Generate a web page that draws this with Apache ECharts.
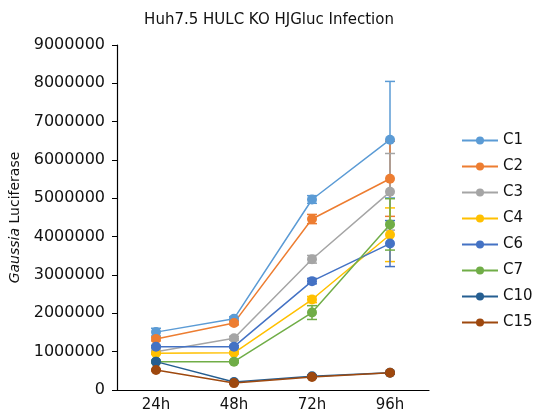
<!DOCTYPE html>
<html>
<head>
<meta charset="utf-8">
<script src="https://cdn.jsdelivr.net/npm/echarts@6/dist/echarts.min.js"></script>
<style>
  html, body { margin: 0; padding: 0; background: #fff; }
  #main { width: 533px; height: 414px; }
</style>
</head>
<body>
<div id="main"></div>
<script>
// time points
const categories = ['24h', '48h', '72h', '96h'];
const names = ['C1', 'C2', 'C3', 'C4', 'C6', 'C7', 'C10', 'C15'];
const colors = ['#5B9BD5', '#ED7D31', '#A5A5A5', '#FFC000', '#4472C4', '#70AD47', '#255E91', '#9E480E'];

// mean values
const c1 = [1510000, 1860000, 4970000, 6530000];
const c2 = [1330000, 1750000, 4460000, 5510000];
const c3 = [1000000, 1350000, 3410000, 5170000];
const c4 = [960000, 970000, 2360000, 4050000];
const c6 = [1130000, 1130000, 2840000, 3820000];
const c7 = [740000, 740000, 2020000, 4320000];
const c10 = [740000, 210000, 360000, 450000];
const c15 = [520000, 180000, 340000, 450000];

// error bar half widths
const e1 = [100000, 50000, 100000, 1520000];
const e2 = [50000, 50000, 120000, 980000];
const e3 = [40000, 50000, 100000, 1000000];
const e4 = [30000, 30000, 80000, 700000];
const e6 = [30000, 30000, 70000, 600000];
const e7 = [30000, 30000, 180000, 670000];
const e10 = [20000, 20000, 30000, 30000];
const e15 = [20000, 20000, 30000, 30000];

const yTicks = { min: 0, max: 9000000, interval: 1000000 };

const values = [c1, c2, c3, c4, c6, c7, c10, c15];
const errors = [e1, e2, e3, e4, e6, e7, e10, e15];

const font = 'DejaVu Sans';

let chart = echarts.init(document.getElementById('main'));

let errData = [];
values.forEach(function (vals, s) {
  vals.forEach(function (v, i) {
    errData.push([i, v - errors[s][i], v + errors[s][i], s]);
  });
});

let lineSeries = names.map(function (n, s) {
  return {
    name: n,
    type: 'line',
    data: values[s],
    symbol: 'circle',
    symbolSize: 10,
    z: 3,
    lineStyle: { width: 1.5, color: colors[s] },
    itemStyle: { color: colors[s] }
  };
});

let errSeries = {
  type: 'custom',
  z: 2,
  silent: true,
  data: errData,
  renderItem: function (params, api) {
    let i = api.value(0);
    let lo = api.coord([i, api.value(1)]);
    let hi = api.coord([i, api.value(2)]);
    let col = colors[api.value(3)];
    let w = 5;
    let style = { stroke: col, lineWidth: 1.5, fill: null };
    return {
      type: 'group',
      children: [
        { type: 'line', shape: { x1: lo[0], y1: lo[1], x2: hi[0], y2: hi[1] }, style: style },
        { type: 'line', shape: { x1: lo[0] - w, y1: lo[1], x2: lo[0] + w, y2: lo[1] }, style: style },
        { type: 'line', shape: { x1: hi[0] - w, y1: hi[1], x2: hi[0] + w, y2: hi[1] }, style: style }
      ]
    };
  }
};

let option = {
  animation: false,
  color: colors,
  title: {
    text: 'Huh7.5 HULC KO HJGluc Infection',
    left: 264,
    textAlign: 'center',
    top: 8,
    textStyle: { fontFamily: font, fontSize: 15, fontWeight: 'normal', color: '#111' }
  },
  grid: { left: 117, right: 104, top: 45, bottom: 24 },
  legend: {
    data: names,
    orient: 'vertical',
    left: 456,
    top: 128,
    itemWidth: 36,
    itemHeight: 10,
    itemGap: 11,
    textStyle: { fontFamily: font, fontSize: 15, color: '#111' }
  },
  xAxis: {
    type: 'category',
    data: categories,
    boundaryGap: true,
    axisLine: { lineStyle: { color: '#000', width: 1.2 } },
    axisTick: { length: 5, lineStyle: { color: '#000' } },
    axisLabel: { fontFamily: font, fontSize: 15, color: '#111', margin: 8 }
  },
  yAxis: {
    type: 'value',
    min: yTicks.min,
    max: yTicks.max,
    interval: yTicks.interval,
    name: '{i|Gaussia} Luciferase',
    nameLocation: 'middle',
    nameGap: 92,
    nameTextStyle: {
      fontFamily: font, fontSize: 14, color: '#111',
      rich: { i: { fontFamily: font, fontSize: 14, fontStyle: 'italic', color: '#111' } }
    },
    axisLine: { show: true, lineStyle: { color: '#000', width: 1.2 } },
    axisTick: { show: true, length: 5, lineStyle: { color: '#000' } },
    splitLine: { show: false },
    axisLabel: {
      fontFamily: font, fontSize: 16, color: '#111', margin: 12,
      formatter: function (v) { return String(v); }
    }
  },
  series: [errSeries].concat(lineSeries)
};

chart.setOption(option);
</script>
</body>
</html>
